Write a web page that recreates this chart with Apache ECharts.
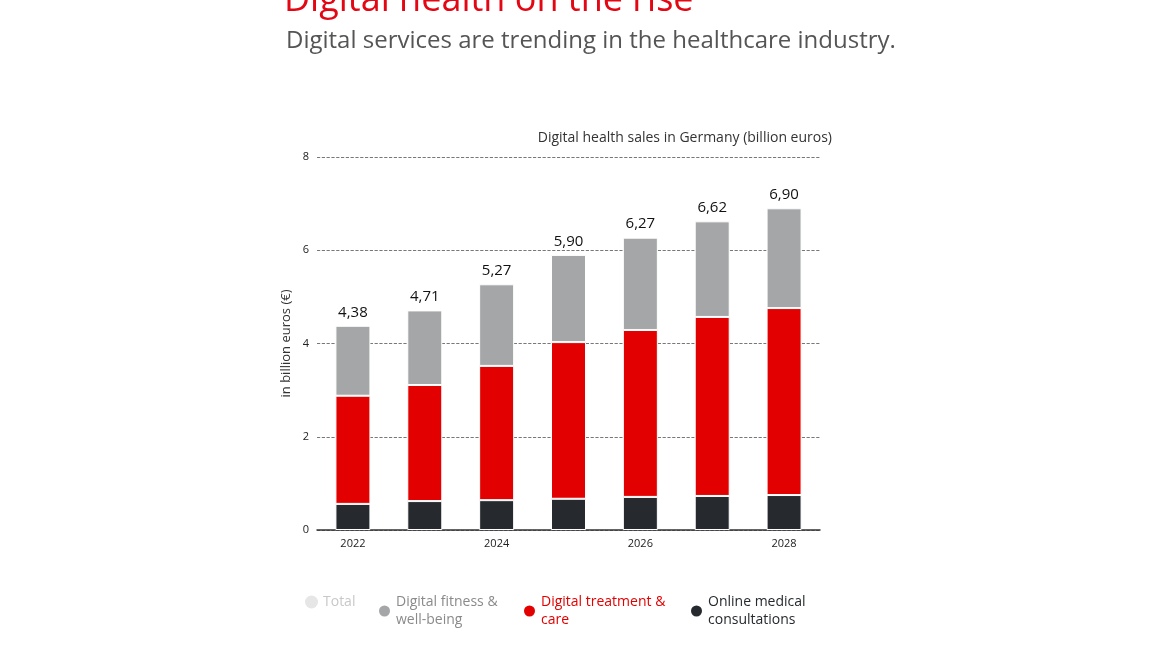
<!DOCTYPE html>
<html><head><meta charset="utf-8">
<script src="https://cdn.jsdelivr.net/npm/echarts@6/dist/echarts.min.js"></script>
<style>html,body{margin:0;padding:0;background:#fff}#container{width:1176px;height:661px}</style>
</head><body><div id="container"></div>
<script>
var years = ['2022', '2023', '2024', '2025', '2026', '2027', '2028'];
var consultations = [0.56, 0.62, 0.64, 0.67, 0.71, 0.73, 0.75];
var treatment = [2.32, 2.49, 2.88, 3.36, 3.58, 3.84, 4.01];
var fitness = [1.50, 1.60, 1.75, 1.87, 1.98, 2.05, 2.14];
var totals = ['4,38', '4,71', '5,27', '5,90', '6,27', '6,62', '6,90'];
var yTicks = [0, 2, 4, 6, 8];

var font = 'Open Sans';
var chart = echarts.init(document.getElementById('container'));

function legendAt(x, name, color, textColor) {
    return {
        left: x, top: 588, orient: 'vertical', icon: 'circle',
        itemWidth: 13, itemHeight: 13, selectedMode: false,
        data: [{name: name, itemStyle: {color: color}}],
        textStyle: {color: textColor, fontFamily: font, fontSize: 14, lineHeight: 18}
    };
}

var option = {
    animation: false,
    textStyle: {fontFamily: font},
    title: [
        {text: 'Digital health on the rise', left: 279, top: -22,
         textStyle: {color: '#e30613', fontSize: 36, fontWeight: 'normal', fontFamily: font}},
        {text: 'Digital services are trending in the healthcare industry.', left: 281, top: 24,
         textStyle: {color: '#555', fontSize: 24, fontWeight: 'normal', fontFamily: font}}
    ],
    graphic: [
        {type: 'text', right: 1176 - 832, top: 131,
         style: {text: 'Digital health sales in Germany (billion euros)', fill: '#333', font: '14px "Open Sans"'}}
    ],
    legend: [
        legendAt(300, 'Total', '#e6e6e6', '#c8c8c8'),
        legendAt(372, 'Digital fitness &\nwell-being', '#a5a6a7', '#8a8a8a'),
        legendAt(517, 'Digital treatment &\ncare', '#e30000', '#e30000'),
        legendAt(684, 'Online medical\nconsultations', '#262a2e', '#262a2e')
    ],
    grid: {left: 317, right: 356, top: 157, bottom: 131},
    xAxis: {
        type: 'category', data: years,
        axisLine: {lineStyle: {color: '#333', width: 1.5}},
        axisTick: {alignWithLabel: true, interval: 1, length: 10, lineStyle: {color: '#333', width: 2}},
        axisLabel: {interval: 1, color: '#222', fontSize: 11, margin: 8}
    },
    yAxis: {
        type: 'value', min: 0, max: 8, interval: 2,
        name: 'in billion euros (€)', nameLocation: 'middle', nameGap: 24,
        nameTextStyle: {color: '#333', fontSize: 13},
        axisLabel: {color: '#222', fontSize: 11, margin: 8,
            formatter: function (v) { return yTicks.indexOf(v) >= 0 ? v : ''; }},
        splitLine: {lineStyle: {type: 'dashed', color: '#555', dashOffset: 0, width: 0.8}}
    },
    series: [
        {name: 'Online medical\nconsultations', type: 'bar', stack: 's', barWidth: 35, data: consultations,
         itemStyle: {color: '#262a2e', borderColor: '#fff', borderWidth: 1}},
        {name: 'Digital treatment &\ncare', type: 'bar', stack: 's', data: treatment,
         itemStyle: {color: '#e30000', borderColor: '#fff', borderWidth: 1}},
        {name: 'Digital fitness &\nwell-being', type: 'bar', stack: 's', data: fitness,
         itemStyle: {color: '#a5a6a7', borderColor: '#fff', borderWidth: 1},
         label: {show: true, position: 'top', distance: 6, color: '#111', fontSize: 15,
             formatter: function (p) { return totals[p.dataIndex]; }}},
        {name: 'Total', type: 'line', data: []}
    ]
};
chart.setOption(option);
</script></body></html>
